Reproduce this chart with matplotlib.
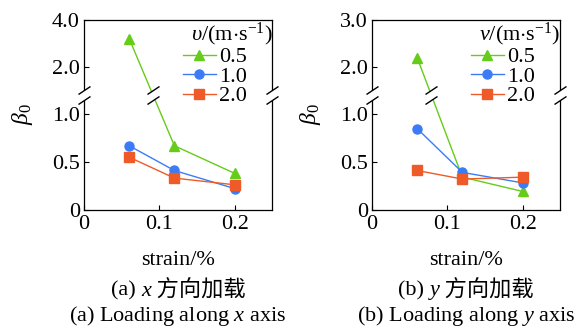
import numpy as np
import matplotlib
matplotlib.use('Agg')
import matplotlib.pyplot as plt
from matplotlib.path import Path
from matplotlib.ticker import FuncFormatter, NullLocator
import matplotlib.transforms as mtransforms

plt.rcParams['font.family'] = ['Liberation Serif', 'Noto Sans CJK SC']
plt.rcParams['mathtext.fontset'] = 'custom'
plt.rcParams['mathtext.rm'] = 'Liberation Serif'
plt.rcParams['mathtext.it'] = 'Liberation Serif:italic'
FS = 16
plt.rcParams['font.size'] = FS

# donnees
strain = [0.06, 0.12, 0.2]
speeds = ['0.5', '1.0', '2.0']
a_v05 = [3.2, 0.67, 0.38]
a_v10 = [0.67, 0.41, 0.22]
a_v20 = [0.55, 0.33, 0.26]
b_v05 = [2.2, 0.34, 0.19]
b_v10 = [0.85, 0.39, 0.28]
b_v20 = [0.41, 0.32, 0.34]
a_yticks = [0, 0.5, 1.0, 2.0, 4.0]
b_yticks = [0, 0.5, 1.0, 2.0, 3.0]
xticks = [0, 0.1, 0.2]

colors = ['#66cc1a', '#3b7cf6', '#ee5a28']
markers = ['^', 'o', 's']

BRK = 1.2      # coupure de l'axe y
T_TOP = 1.996  # hauteur de l'axe en unites basses
T_2 = 1.494    # position de 2.0


def make_scale(top):
    k = (T_TOP - T_2) / (top - 2.0)

    def fwd(y):
        y = np.asarray(y, dtype=float)
        return np.where(y <= BRK, y, np.maximum(BRK, T_2 + (y - 2.0) * k))

    def inv(t):
        t = np.asarray(t, dtype=float)
        return np.where(t <= BRK, t, np.maximum(BRK, 2.0 + (t - T_2) / k))
    return fwd, inv


# marque de coupure "//"
slash = Path([(-6, 1), (6, 9), (-6, -9), (6, -1)],
             [Path.MOVETO, Path.LINETO, Path.MOVETO, Path.LINETO])
mask = Path([(-6, -9), (6, -1), (6, 9), (-6, 1), (-6, -9)],
            [Path.MOVETO, Path.LINETO, Path.LINETO, Path.LINETO, Path.CLOSEPOLY])
MS = 18 * 72 / 100


def break_mark(ax, x, y, transform):
    ax.plot(x, y, ls='none', marker=mask, ms=MS, mfc='white', mec='none',
            transform=transform, clip_on=False, zorder=5)
    ax.plot(x, y, ls='none', marker=slash, ms=MS, fillstyle='none', mec='black',
            mew=1.0, transform=transform, clip_on=False, zorder=6)


fig = plt.figure(figsize=(5.76, 3.31), dpi=100)
W, H = 576, 331

panels = [
    (0.1458, [a_v05, a_v10, a_v20], a_yticks, r'$\enspace\upsilon$/(m$\cdot$s$^{-1}$)'),
    (0.6458, [b_v05, b_v10, b_v20], b_yticks, r'$\enspace v$/(m$\cdot$s$^{-1}$)'),
]

for left, series, yticks, ltitle in panels:
    ax = fig.add_axes([left, 0.367, 0.327, 0.574])
    fwd, inv = make_scale(yticks[-1])
    ax.set_yscale('function', functions=(fwd, inv))
    for vals, c, m, lab in zip(series, colors, markers, speeds):
        ms = 7.5 if m == '^' else 6.5
        ax.plot(strain, vals, color=c, marker=m, ms=ms, lw=1.0, label=lab)
    ax.set_xlim(0, 0.25)
    ax.set_ylim(0, yticks[-1])
    ax.set_xticks(xticks)
    ax.set_yticks(yticks)
    fmt = FuncFormatter(lambda v, p: '0' if v == 0 else f'{v:.1f}')
    ax.xaxis.set_major_formatter(fmt)
    ax.yaxis.set_major_formatter(fmt)
    ax.yaxis.set_minor_locator(NullLocator())
    ax.tick_params(direction='in', length=3.5, width=0.8, labelsize=FS)
    ax.tick_params(axis='x', pad=4)
    ax.tick_params(axis='y', pad=3)
    for sp in ax.spines.values():
        sp.set_linewidth(0.9)
    ax.set_xlabel('strain/%', fontsize=FS, labelpad=12)
    ax.set_ylabel(r'$\beta_0$', fontsize=FS + 1)
    ax.yaxis.set_label_coords(-0.26, 0.5)

    # coupures sur les axes
    blend = mtransforms.blended_transform_factory(ax.transAxes, ax.transData)
    break_mark(ax, [0, 1], [BRK, BRK], blend)
    # coupure sur la courbe qui traverse
    v = series[0]
    ta, tb = float(fwd(v[0])), float(fwd(v[1]))
    xb = strain[0] + (ta - BRK) / (ta - tb) * (strain[1] - strain[0])
    break_mark(ax, [xb], [BRK], ax.transData)

    ax.legend(title=ltitle, loc='upper left', bbox_to_anchor=(0.513, 1.005),
              frameon=False, fontsize=FS, title_fontsize=FS, handlelength=1.5,
              handletextpad=0.15, labelspacing=-0.05, borderpad=0.1,
              borderaxespad=0, alignment='left')

# legendes sous les figures
renderer = fig.canvas.get_renderer()
for cx, tag, var in [(178, 'a', 'x'), (466, 'b', 'y')]:
    parts = [(f'({tag}) ', 'normal'), (var, 'italic'), (' 方向加载', 'normal')]
    texts = [fig.text(0, 1 - 291 / H, s, fontsize=FS, style=st, va='center', ha='left')
             for s, st in parts]
    widths = [t.get_window_extent(renderer).width for t in texts]
    x = cx - sum(widths) / 2
    for t, w in zip(texts, widths):
        t.set_x(x / W)
        x += w
    fig.text(cx / W, 1 - 316 / H, f'({tag}) Loading along ${var}$ axis',
             fontsize=FS, ha='center', va='center')

fig.savefig('out.png', dpi=100)
